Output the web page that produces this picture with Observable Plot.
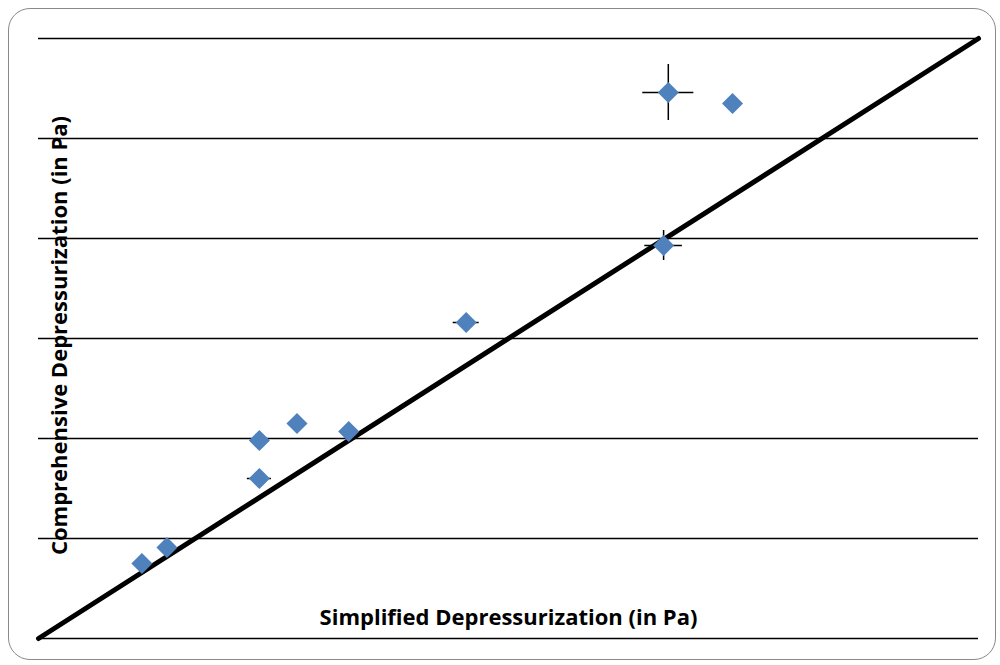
<!DOCTYPE html>
<html>
<head>
<meta charset="utf-8">
<script src="https://cdn.jsdelivr.net/npm/d3@7"></script>
<script src="https://cdn.jsdelivr.net/npm/@observablehq/plot@0.6"></script>
<style>
  html, body { margin: 0; padding: 0; background: #fff; }
  #wrap { position: relative; width: 1000px; height: 665px; }
  #border { position: absolute; left: 8px; top: 8px; width: 988px; height: 652px;
            border: 1.5px solid #898989; border-radius: 22px; box-sizing: border-box; }
  #chart { position: absolute; left: 0; top: 0; }
</style>
</head>
<body>
<div id="wrap"><div id="border"></div><div id="chart"></div></div>
<script>
// Data
const simplified    = [6.6, 8.2, 14.1, 14.1, 16.5, 19.8, 27.3, 39.9, 40.2, 44.3];
const comprehensive = [7.5, 9.1, 19.8, 16.0, 21.5, 20.7, 31.6, 39.3, 54.6, 53.5];
const xError        = [0, 0, 0, 0.77, 0, 0, 0.83, 1.2, 1.63, 0];
const yError        = [0, 0, 0, 0, 0, 0, 0, 1.5, 2.8, 0];
const gridValues    = [0, 10, 20, 30, 40, 50, 60];
const identityLine  = [0, 60];
const xTitle = "Simplified Depressurization (in Pa)";
const yTitle = "Comprehensive Depressurization (in Pa)";

const points = simplified.map((x, i) => ({x, y: comprehensive[i], ex: xError[i], ey: yError[i]}));
const xBars = points.filter(d => d.ex > 0);
const yBars = points.filter(d => d.ey > 0);
const diag = identityLine.map(v => ({x: v, y: v}));

const chart = Plot.plot({
  width: 1000,
  height: 665,
  marginTop: 38,
  marginBottom: 27,
  marginLeft: 38,
  marginRight: 22,
  x: {domain: [0, 60], axis: null},
  y: {domain: [0, 60], axis: null},
  style: {background: "transparent", fontFamily: "'Open Sans', sans-serif"},
  marks: [
    Plot.ruleY(gridValues, {stroke: "#000", strokeWidth: 1.6}),
    Plot.ruleY(xBars, {y: "y", x1: d => d.x - d.ex, x2: d => d.x + d.ex, stroke: "#000", strokeWidth: 1.5}),
    Plot.ruleX(yBars, {x: "x", y1: d => d.y - d.ey, y2: d => d.y + d.ey, stroke: "#000", strokeWidth: 1.5}),
    Plot.line(diag, {x: "x", y: "y", stroke: "#000", strokeWidth: 5}),
    Plot.dot(points, {x: "x", y: "y", symbol: "diamond2", r: 9.5, fill: "#4F81BD", stroke: "none"}),
    Plot.text([xTitle], {frameAnchor: "bottom", dy: -14, textAnchor: "middle", fontSize: 22, fontWeight: "bold", fill: "#000"}),
    Plot.text([yTitle], {frameAnchor: "left", dx: 21, dy: -3, textAnchor: "middle", rotate: -90, fontSize: 22, fontWeight: "bold", fill: "#000"})
  ]
});
document.getElementById("chart").appendChild(chart);
</script>
</body>
</html>
